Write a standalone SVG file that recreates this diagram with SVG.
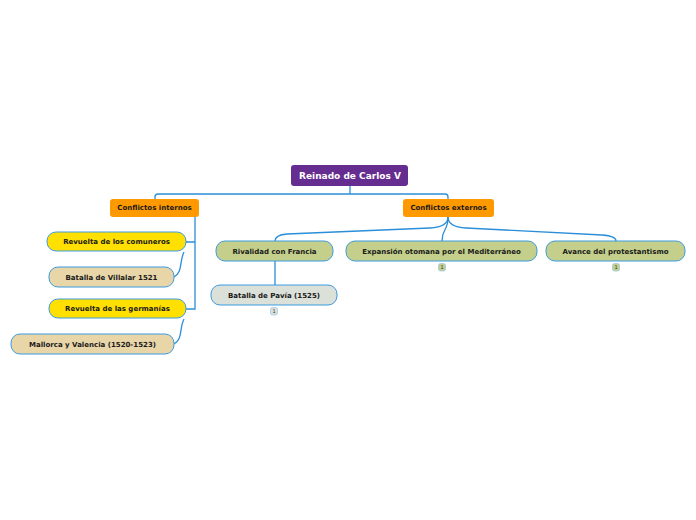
<svg xmlns="http://www.w3.org/2000/svg" width="696" height="520" viewBox="0 0 696 520">
<style>
.t{font-family:"DejaVu Sans",Verdana,sans-serif;font-weight:bold;font-size:7px;fill:#1a1a1a;text-anchor:middle;dominant-baseline:central}
.root{fill:#662d91}
.rt{font-family:"DejaVu Sans",Verdana,sans-serif;font-weight:bold;font-size:9px;fill:#ffffff;text-anchor:middle;dominant-baseline:central}
.or{fill:#ff9900}
.ye{fill:#ffe000;stroke:#3a9be0;stroke-width:1}
.tan{fill:#e8d5a8;stroke:#3a9be0;stroke-width:1}
.ol{fill:#c3cf8a;stroke:#3a9be0;stroke-width:1}
.gr{fill:#dbe0d8;stroke:#3a9be0;stroke-width:1}
.c{fill:none;stroke:#2a8ed8;stroke-width:1.3}
.b{stroke:#9ccbea;stroke-width:0.8}
.bt{font-family:"DejaVu Sans",Verdana,sans-serif;font-size:5px;fill:#333;text-anchor:middle;dominant-baseline:central}
</style>
<rect width="696" height="520" fill="#ffffff"/>
<g id="connectors">
<path class="c" d="M350,186 L350,194 M155,199 L155,197 Q155,194 158,194 L445,194 Q448,194 448,197 L448,199"/>
<path class="c" d="M195,217 L195,309 L186,309 M195,242 L186,242"/>
<path class="c" d="M184,252 C179,262 183,272 174,277"/>
<path class="c" d="M184,319 C179,329 183,339 174,344"/>
<path class="c" d="M448,217 Q448,227 430,228 L287,234 Q275,235 275,241"/>
<path class="c" d="M448,217 C448,232 442,228 442,241"/>
<path class="c" d="M448,217 Q448,227 466,228 L602,235 Q616,236 616,241"/>
<path class="c" d="M275,261 L275,285"/>
</g>
<g id="root">
<rect class="root" x="291" y="165" width="117" height="21" rx="3"/>
<text class="rt" x="350" y="175.5">Reinado de Carlos V</text>
</g>
<g id="conflictos-internos">
<rect class="or" x="110" y="199" width="89" height="18" rx="3"/>
<text class="t" x="154.5" y="208">Conflictos internos</text>
</g>
<g id="conflictos-externos">
<rect class="or" x="403" y="199" width="91" height="18" rx="3"/>
<text class="t" x="448.5" y="208">Conflictos externos</text>
</g>
<g id="comuneros">
<rect class="ye" x="47" y="232" width="139" height="19" rx="9"/>
<text class="t" x="116.5" y="242">Revuelta de los comuneros</text>
</g>
<g id="villalar">
<rect class="tan" x="49" y="267" width="125" height="20" rx="9"/>
<text class="t" x="111.5" y="277.5">Batalla de Villalar 1521</text>
</g>
<g id="germanias">
<rect class="ye" x="49" y="299" width="137" height="19" rx="9"/>
<text class="t" x="117.5" y="309">Revuelta de las germanías</text>
</g>
<g id="mallorca">
<rect class="tan" x="11" y="334" width="163" height="20" rx="9"/>
<text class="t" x="92.5" y="344.5">Mallorca y Valencia (1520-1523)</text>
</g>
<g id="rivalidad">
<rect class="ol" x="216" y="241" width="117" height="20" rx="9"/>
<text class="t" x="274.5" y="251.5">Rivalidad con Francia</text>
</g>
<g id="pavia">
<rect class="gr" x="211" y="285" width="126" height="20" rx="9"/>
<text class="t" x="274" y="295.5">Batalla de Pavía (1525)</text>
<rect class="gr b" x="270.5" y="307.5" width="7" height="7.5" rx="2"/>
<text class="bt" x="274" y="311.2">1</text>
</g>
<g id="expansion">
<rect class="ol" x="346" y="241" width="191" height="20" rx="9"/>
<text class="t" x="441.5" y="251.5">Expansión otomana por el Mediterráneo</text>
<rect class="ol b" x="438.5" y="263.5" width="7" height="7.5" rx="2"/>
<text class="bt" x="442" y="267.2">1</text>
</g>
<g id="protestantismo">
<rect class="ol" x="546" y="241" width="139" height="20" rx="9"/>
<text class="t" x="615.5" y="251.5">Avance del protestantismo</text>
<rect class="ol b" x="612.5" y="263.5" width="7" height="7.5" rx="2"/>
<text class="bt" x="616" y="267.2">1</text>
</g>
</svg>
